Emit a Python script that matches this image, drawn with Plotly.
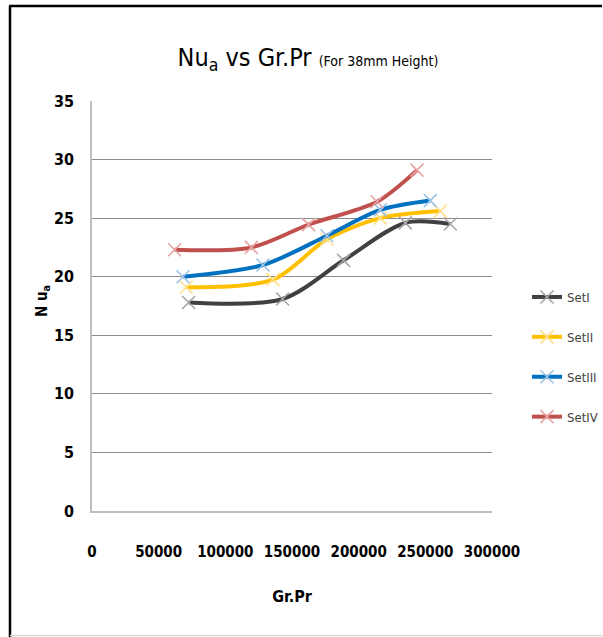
import plotly.graph_objects as go

# ---- data ----
series_names = ["SetI", "SetII", "SetIII", "SetIV"]
set1_x = [72450, 142950, 188700, 235000, 268700]
set1_y = [17.8, 18.1, 21.4, 24.6, 24.5]
set2_x = [70700, 135750, 176250, 216200, 261200]
set2_y = [19.1, 19.75, 23.2, 25.0, 25.6]
set3_x = [68250, 128250, 176250, 216200, 253700]
set3_y = [20.0, 21.0, 23.5, 25.7, 26.5]
set4_x = [61950, 119500, 162450, 213750, 243750]
set4_y = [22.3, 22.5, 24.45, 26.4, 29.1]
x_ticks = [0, 50000, 100000, 150000, 200000, 250000, 300000]
y_ticks = [0, 5, 10, 15, 20, 25, 30, 35]

line_colors = ["#404040", "#FFC000", "#0070C0", "#C0504D"]
marker_colors = ["#A6A6A6", "#FFE08A", "#9DC3E6", "#E6A3A2"]

FONT = "DejaVu Sans Condensed, Liberation Sans Narrow, Liberation Sans, sans-serif"

fig = go.Figure()
xs = [set1_x, set2_x, set3_x, set4_x]
ys = [set1_y, set2_y, set3_y, set4_y]
for i, name in enumerate(series_names):
    fig.add_trace(go.Scatter(
        x=xs[i], y=ys[i], name=name, mode="lines+markers",
        line=dict(color=line_colors[i], width=4, shape="spline", smoothing=0.85),
        marker=dict(symbol="x-thin", size=13,
                    line=dict(color=marker_colors[i], width=1.6)),
        legendgroup=name,
    ))

L, R, T, B = 92, 111, 101, 126
W, H = 603, 637
PW, PH = W - L - R, H - T - B


def px(xp):
    return (xp - L) / PW


def py(yp):
    return (H - B - yp) / PH


shapes = [
    dict(type="line", xref="paper", yref="paper", x0=px(10), x1=px(10), y0=py(6), y1=py(637),
         line=dict(color="black", width=2.5)),
    dict(type="line", xref="paper", yref="paper", x0=px(9), x1=px(602), y0=py(6), y1=py(6),
         line=dict(color="black", width=2.5)),
    dict(type="line", xref="paper", yref="paper", x0=px(10), x1=px(602), y0=py(635.5), y1=py(635.5),
         line=dict(color="#D9D9D9", width=1.5)),
]

annotations = [
    dict(text="N u<sub>a</sub>", xref="paper", yref="paper", x=px(42), y=py(301),
         showarrow=False, textangle=-90, xanchor="center", yanchor="middle",
         font=dict(family=FONT, size=15, color="black", weight="bold")),
]

fig.update_layout(
    width=W, height=H,
    margin=dict(l=L, r=R, t=T, b=B, autoexpand=False),
    paper_bgcolor="white", plot_bgcolor="white",
    font=dict(family=FONT, color="black"),
    title=dict(
        text="Nu<sub>a</sub> vs Gr.Pr <span style='font-size:14px'>(For 38mm Height)</span>",
        x=px(308), xanchor="center", xref="paper",
        y=1 - 57 / H, yanchor="middle", yref="container",
        font=dict(family=FONT, size=25, color="black"),
    ),
    xaxis=dict(
        range=[0, 300000], tickvals=x_ticks, ticktext=[str(v) for v in x_ticks],
        showgrid=False, zeroline=False, showline=True, linecolor="#BFBFBF", linewidth=1.5,
        ticks="", ticklabelstandoff=26,
        tickfont=dict(family=FONT, size=15, color="black", weight="bold"),
        title=dict(text="Gr.Pr", standoff=31,
                   font=dict(family=FONT, size=16, color="black", weight="bold")),
    ),
    yaxis=dict(
        range=[0, 35], tickvals=y_ticks,
        showgrid=True, gridcolor="#8C8C8C", gridwidth=1,
        zeroline=False, showline=True, linecolor="#BFBFBF", linewidth=1.5,
        ticks="", ticklabelstandoff=13,
        tickfont=dict(family=FONT, size=16, color="black", weight="bold"),
    ),
    legend=dict(
        xref="container", yref="container",
        x=527 / W, y=1 - 282 / H, xanchor="left", yanchor="top",
        font=dict(family=FONT, size=13, color="#404040"),
        tracegroupgap=20, itemwidth=30, bgcolor="rgba(0,0,0,0)",
    ),
    shapes=shapes,
    annotations=annotations,
    showlegend=True,
)

fig.write_html("out.html")
